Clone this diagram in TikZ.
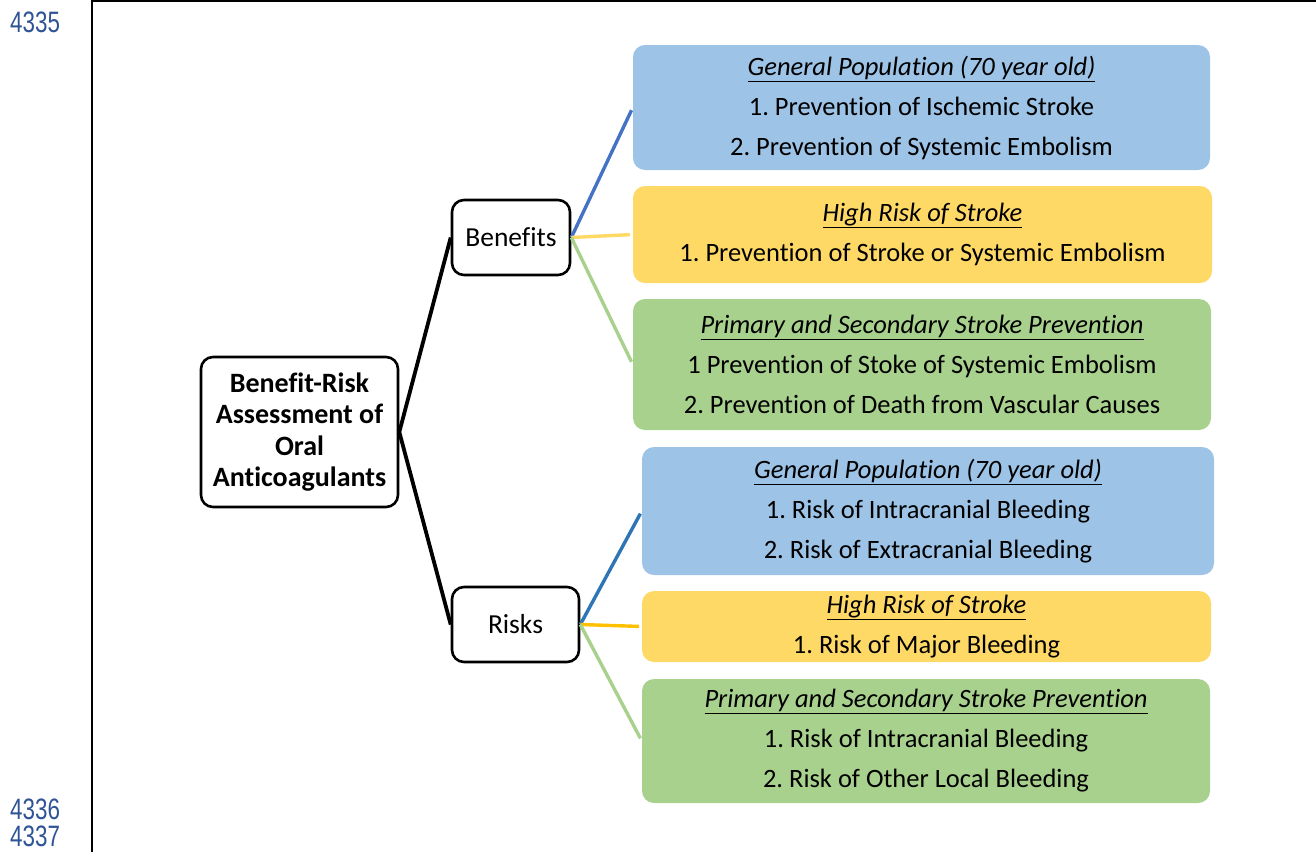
\documentclass[tikz,border=0pt]{standalone}
\usepackage{fontspec}
\setmainfont{Carlito}[Ligatures={NoCommon}]
\newfontfamily\numfont{Liberation Sans}
\definecolor{numblue}{HTML}{2F5496}
\definecolor{fillblue}{HTML}{9DC3E6}
\definecolor{fillyellow}{HTML}{FFD966}
\definecolor{fillgreen}{HTML}{A9D18E}
\definecolor{lineblueA}{HTML}{4472C4}
\definecolor{lineblueB}{HTML}{2E75B6}
\definecolor{lineyellowA}{HTML}{FFD966}
\definecolor{lineyellowB}{HTML}{FFC000}
\definecolor{linegreen}{HTML}{A9D18E}
\frenchspacing
\begin{document}
\begin{tikzpicture}[x=1pt,y=-1pt,
  blackbox/.style={draw=black,line width=2.6pt,rounded corners=12pt,fill=white,inner sep=0pt,align=center},
  leafbox/.style={rounded corners=12pt,inner sep=0pt,align=center,font=\fontsize{26.5}{40}\selectfont},
  trunk/.style={black,line width=3.8pt},
  branch/.style={line width=3.4pt,shorten >=3pt},
  linenum/.style={font=\numfont\fontsize{29.5}{30}\selectfont,text=numblue,inner sep=0pt,anchor=west,text height=20pt,text depth=0pt}
]
\useasboundingbox (0,0) rectangle (1316,852);
% page frame
\draw[line width=2pt] (92,852) -- (92,1) -- (1316,1);
\node[linenum] (n1) at (10,22) {\scalebox{0.76}[1]{4335}};
\node[linenum] (n2) at (10,809) {\scalebox{0.76}[1]{4336}};
\node[linenum] (n3) at (10,836) {\scalebox{0.76}[1]{4337}};
% leaves
\node[leafbox,fill=fillblue,minimum width=577pt,minimum height=125pt] (b1) at (921.5,107.5)
  {\underline{\textit{General Population (70 year old)}}\\1. Prevention of Ischemic Stroke\\2. Prevention of Systemic Embolism};
\node[leafbox,fill=fillyellow,minimum width=579pt,minimum height=97pt] (b2) at (922.5,234.5)
  {\underline{\textit{High Risk of Stroke}}\\1. Prevention of Stroke or Systemic Embolism};
\node[leafbox,fill=fillgreen,minimum width=578pt,minimum height=131pt] (b3) at (922,364.5)
  {\underline{\textit{Primary and Secondary Stroke Prevention}}\\1 Prevention of Stoke of Systemic Embolism\\2. Prevention of Death from Vascular Causes};
\node[leafbox,fill=fillblue,minimum width=572pt,minimum height=128pt] (r1) at (928,511)
  {\underline{\textit{General Population (70 year old)}}\\1. Risk of Intracranial Bleeding\\2. Risk of Extracranial Bleeding};
\node[leafbox,fill=fillyellow,minimum width=569pt,minimum height=71pt] (r2) at (926.5,626.5)
  {\underline{\textit{High Risk of Stroke}}\\1. Risk of Major Bleeding};
\node[leafbox,fill=fillgreen,minimum width=568pt,minimum height=124pt] (r3) at (926,741)
  {\underline{\textit{Primary and Secondary Stroke Prevention}}\\1. Risk of Intracranial Bleeding\\2. Risk of Other Local Bleeding};
% inner nodes
\node[blackbox,minimum width=197pt,minimum height=150pt,font=\bfseries\fontsize{28}{31.5}\selectfont] (main) at (299.5,432)
  {\raisebox{-2pt}{\parbox{190pt}{\centering Benefit-Risk\\Assessment of\\Oral\\Anticoagulants}}};
\node[blackbox,minimum width=118pt,minimum height=75pt,font=\fontsize{27.5}{30}\selectfont] (ben) at (511,237.5) {Benefits};
\node[blackbox,minimum width=127pt,minimum height=75pt,font=\fontsize{27.5}{30}\selectfont] (risk) at (515.5,624.5) {Risks};
% connectors
\draw[trunk] (main.east) -- (ben.west);
\draw[trunk] (main.east) -- (risk.west);
\draw[branch,lineblueA] (ben.east) -- (b1.west);
\draw[branch,lineyellowA] (ben.east) -- (b2.west);
\draw[branch,linegreen] (ben.east) -- (b3.west);
\draw[branch,lineblueB] (risk.east) -- (r1.west);
\draw[branch,lineyellowB] (risk.east) -- (r2.west);
\draw[branch,linegreen] (risk.east) -- (r3.west);
\end{tikzpicture}
\end{document}
